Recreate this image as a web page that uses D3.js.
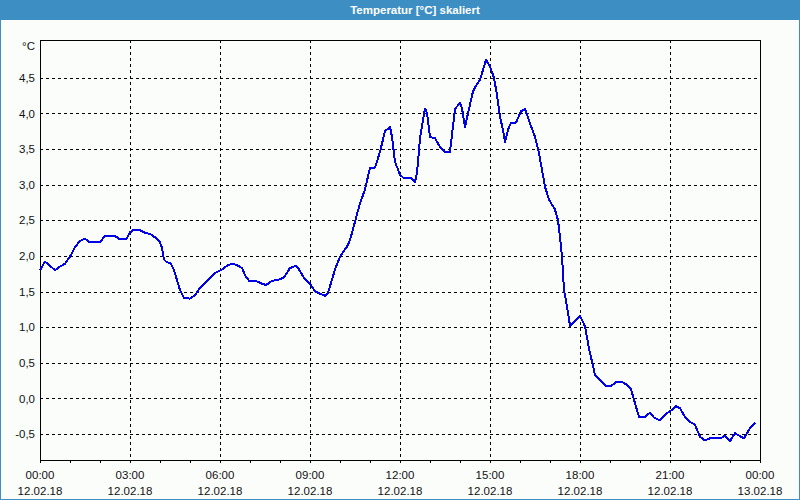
<!DOCTYPE html>
<html>
<head>
<meta charset="utf-8">
<script src="https://cdn.jsdelivr.net/npm/d3@7"></script>
<style>
  html, body { margin: 0; padding: 0; background: #fbfdfb; }
  svg { display: block; }
  text { font-family: "Liberation Sans", Arial, sans-serif; }
</style>
</head>
<body>
<svg id="chart" width="800" height="500"></svg>
<script>
// ---- data ----
const chartTitle = "Temperatur [°C] skaliert";
const unitLabel = "°C";
// minutes since 12.02.18 00:00
const minutes = [
  0,10,30,40,50,60,70,80,90,100,
  120,130,150,160,172,180,188,200,208,222,
  232,240,244,248,252,262,268,274,280,288,
  300,310,320,350,364,376,386,394,404,410,
  418,434,444,452,464,480,488,500,512,518,
  530,540,550,560,570,576,590,600,614,620,
  630,640,650,660,670,680,690,700,704,710,
  720,726,740,750,754,760,770,774,780,790,
  800,810,820,830,840,844,850,856,866,872,
  880,892,900,908,914,920,926,930,936,942,
  952,962,970,980,990,998,1004,1010,1018,1030,
  1036,1040,1044,1048,1054,1060,1070,1080,1090,1098,
  1110,1120,1132,1142,1152,1164,1174,1182,1188,1198,
  1210,1220,1228,1240,1250,1264,1272,1280,1290,1300,
  1310,1320,1330,1340,1362,1370,1380,1390,1400,1408,
  1420,1430
];
const temperatures = [
  1.80,1.92,1.80,1.85,1.89,1.99,2.12,2.21,2.24,2.19,
  2.19,2.28,2.28,2.23,2.23,2.33,2.37,2.36,2.33,2.30,
  2.25,2.19,2.11,1.95,1.92,1.89,1.80,1.66,1.52,1.41,
  1.40,1.45,1.55,1.76,1.81,1.87,1.89,1.87,1.83,1.73,
  1.65,1.64,1.61,1.59,1.65,1.67,1.70,1.83,1.86,1.81,
  1.67,1.61,1.50,1.47,1.44,1.48,1.81,1.99,2.13,2.22,
  2.48,2.74,2.93,3.24,3.24,3.46,3.75,3.81,3.67,3.32,
  3.14,3.10,3.10,3.04,3.16,3.65,4.07,4.00,3.67,3.65,
  3.53,3.46,3.46,4.06,4.15,4.07,3.81,4.00,4.31,4.39,
  4.47,4.75,4.66,4.50,4.26,3.95,3.77,3.60,3.77,3.87,
  3.87,4.03,4.06,3.86,3.67,3.44,3.21,2.97,2.79,2.65,
  2.50,2.27,1.99,1.52,1.29,1.02,1.09,1.16,1.01,0.70,
  0.33,0.26,0.17,0.17,0.23,0.23,0.19,0.13,-0.02,-0.26,
  -0.26,-0.20,-0.27,-0.31,-0.23,-0.16,-0.11,-0.14,-0.26,-0.33,
  -0.37,-0.54,-0.59,-0.56,-0.56,-0.52,-0.60,-0.49,-0.53,-0.56,
  -0.42,-0.34
];
const yDomain = [-0.865, 5.03];
const yTicks = [-0.5, 0, 0.5, 1, 1.5, 2, 2.5, 3, 3.5, 4, 4.5];
const xDomain = [0, 1440];
const xMajorTicks = [0, 180, 360, 540, 720, 900, 1080, 1260, 1440];
const xTimeLabels = ["00:00","03:00","06:00","09:00","12:00","15:00","18:00","21:00","00:00"];
const xDateLabels = ["12.02.18","12.02.18","12.02.18","12.02.18","12.02.18","12.02.18","12.02.18","12.02.18","13.02.18"];
const xMinorTicks = d3.range(0, 1441, 60);

// ---- layout ----
const W = 800, H = 500;
const plot = { left: 40, top: 40, right: 760, bottom: 460 };
const blue = "#3d8fc3";

const svg = d3.select("#chart");

svg.append("rect").attr("x", 0).attr("y", 0).attr("width", W).attr("height", H).attr("fill", "#fbfdfb");
svg.append("rect").attr("x", 0).attr("y", 0).attr("width", W).attr("height", 20).attr("fill", blue);
svg.append("rect").attr("x", 0.5).attr("y", 0.5).attr("width", W - 1).attr("height", H - 1)
  .attr("fill", "none").attr("stroke", blue).attr("stroke-width", 1);
svg.append("text").attr("x", 415).attr("y", 10).attr("text-anchor", "middle").attr("dominant-baseline", "central")
  .attr("fill", "#ffffff").attr("font-weight", "bold").attr("font-size", 11.5).text(chartTitle);

const x = d3.scaleLinear().domain(xDomain).range([plot.left, plot.right]);
const y = d3.scaleLinear().domain(yDomain).range([plot.bottom, plot.top]);

const fmt = d3.formatLocale({ decimal: ",", thousands: ".", grouping: [3], currency: ["", "€"], minus: "-" }).format(".1f");

// gridlines
const grid = svg.append("g").attr("stroke", "#000").attr("stroke-width", 1)
  .attr("stroke-dasharray", "3,3").attr("shape-rendering", "crispEdges");
grid.selectAll("line.h").data(yTicks).join("line").attr("class", "h")
  .attr("x1", plot.left).attr("x2", plot.right)
  .attr("y1", d => Math.round(y(d)) + 0.5).attr("y2", d => Math.round(y(d)) + 0.5);
grid.selectAll("line.v").data(xMajorTicks.slice(1, -1)).join("line").attr("class", "v")
  .attr("y1", plot.top).attr("y2", plot.bottom)
  .attr("x1", d => Math.round(x(d)) + 0.5).attr("x2", d => Math.round(x(d)) + 0.5);

// y axis labels
const yAxis = d3.axisLeft(y).tickValues(yTicks).tickSize(0).tickPadding(5).tickFormat(d => fmt(d));
const gy = svg.append("g").attr("transform", `translate(${plot.left},0)`).call(yAxis);
gy.select(".domain").remove();
gy.selectAll("text").attr("font-size", 11.5).attr("fill", "#111").attr("font-family", "Liberation Sans, Arial, sans-serif");
svg.append("text").attr("x", 35).attr("y", 46).attr("text-anchor", "end").attr("dominant-baseline", "central")
  .attr("font-size", 11.5).attr("fill", "#111").text(unitLabel);

// x axis minor ticks
const xAxis = d3.axisBottom(x).tickValues(xMinorTicks).tickSize(3).tickFormat("");
const gx = svg.append("g").attr("transform", `translate(0,${plot.bottom})`).call(xAxis);
gx.select(".domain").remove();
gx.selectAll("line").attr("stroke", "#000").attr("shape-rendering", "crispEdges");

// x labels
const xl = svg.append("g").attr("font-size", 11.5).attr("fill", "#111").attr("text-anchor", "middle");
xl.selectAll("text.t").data(xMajorTicks).join("text").attr("class", "t")
  .attr("x", d => x(d)).attr("y", 479).text((d, i) => xTimeLabels[i]);
xl.selectAll("text.d").data(xMajorTicks).join("text").attr("class", "d")
  .attr("x", d => x(d)).attr("y", 495).text((d, i) => xDateLabels[i]);

// frame
svg.append("rect").attr("x", plot.left + 0.5).attr("y", plot.top + 0.5)
  .attr("width", plot.right - plot.left).attr("height", plot.bottom - plot.top)
  .attr("fill", "none").attr("stroke", "#000").attr("stroke-width", 1).attr("shape-rendering", "crispEdges");

// line
const data = minutes.map((m, i) => ({ m, v: temperatures[i] }));
const line = d3.line().x(d => x(d.m)).y(d => y(d.v));
svg.append("path").datum(data).attr("d", line)
  .attr("fill", "none").attr("stroke", "#0000e6").attr("stroke-width", 2)
  .attr("stroke-linejoin", "round").attr("shape-rendering", "crispEdges");
</script>
</body>
</html>
